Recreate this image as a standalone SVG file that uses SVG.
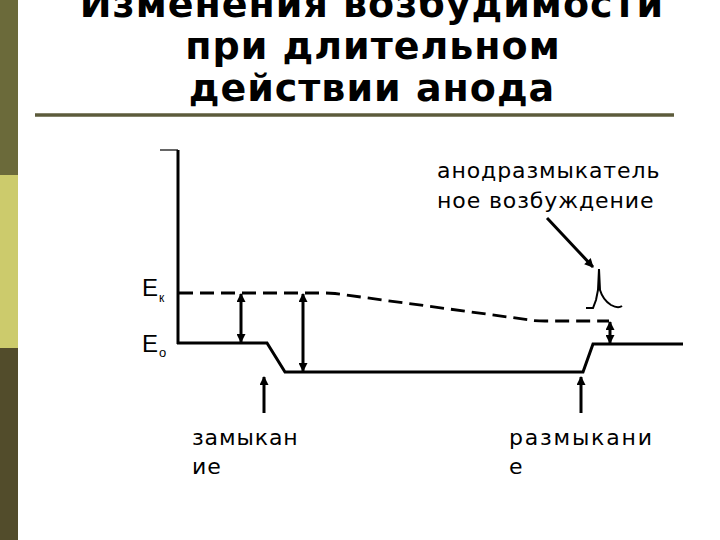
<svg xmlns="http://www.w3.org/2000/svg" width="720" height="540" viewBox="0 0 720 540">
<style>
.title{font-family:"DejaVu Sans",sans-serif;font-weight:bold;font-size:38px;fill:#000;text-anchor:middle;letter-spacing:1px}
.lbl{font-family:"DejaVu Sans",sans-serif;font-size:22px;fill:#000;letter-spacing:0.9px}
.ax{font-family:"Liberation Sans",Arial,sans-serif;fill:#000}
.solid{fill:none;stroke:#000;stroke-width:3}
.dash{fill:none;stroke:#000;stroke-width:2.8;stroke-dasharray:14 7}
.arr{fill:none;stroke:#000;stroke-width:3}
</style>
<defs>
<marker id="ah" viewBox="0 0 10 10" refX="9" refY="5" markerWidth="10" markerHeight="9" markerUnits="userSpaceOnUse" orient="auto-start-reverse">
<path d="M0,0 L10,5 L0,10 z" fill="#000"/>
</marker>
</defs>
<rect width="720" height="540" fill="#fff"/>
<g id="sidebar">
<rect x="0" y="0" width="18" height="175" fill="#6b6a3a"/>
<rect x="0" y="175" width="18" height="173" fill="#cccb6c"/>
<rect x="0" y="348" width="18" height="192" fill="#524c2b"/>
</g>
<g id="title">
<text class="title" x="372" y="16.5">Изменения возбудимости</text>
<text class="title" x="373" y="58.5">при длительном</text>
<text class="title" x="372" y="101">действии анода</text>
<line x1="35" y1="115" x2="674" y2="115" stroke="#5c5b3b" stroke-width="3.5"/>
</g>
<g id="axis">
<line x1="160" y1="150" x2="178" y2="150" stroke="#000" stroke-width="1.2"/>
<line x1="178" y1="150" x2="178" y2="344" stroke="#000" stroke-width="3"/>
<text class="ax" x="142" y="296" font-size="24">E</text>
<text class="ax" x="159" y="302" font-size="12">к</text>
<text class="ax" x="142" y="352" font-size="24">E</text>
<text class="ax" x="159" y="357" font-size="13">o</text>
</g>
<g id="potential">
<path class="solid" d="M177,343 L267,343 L285,372 L583,372 L593,344 L683,344"/>
</g>
<g id="threshold">
<path class="dash" d="M179,293 L325,293 Q330,293 335,293.5 L530,320 Q536,321 545,321 L609,321"/>
</g>
<g id="spike">
<path d="M586,308 L593,308 L596,300 L598,290 L599,269 L600,290 Q603,300 611,305 Q618,309 622,306" fill="none" stroke="#000" stroke-width="2"/>
</g>
<g id="labels">
<text class="lbl" x="437" y="178">анодразмыкатель</text>
<text class="lbl" x="437" y="208">ное возбуждение</text>
<text class="lbl" x="192" y="445">замыкан</text>
<text class="lbl" x="192" y="474">ие</text>
<text class="lbl" x="509" y="445" style="letter-spacing:1.8px">размыкани</text>
<text class="lbl" x="509" y="474">е</text>
</g>
<g id="connectors">
<line class="arr" x1="241" y1="294" x2="241" y2="342" marker-start="url(#ah)" marker-end="url(#ah)"/>
<line class="arr" x1="303" y1="294" x2="303" y2="371" marker-start="url(#ah)" marker-end="url(#ah)"/>
<line class="arr" x1="610" y1="322" x2="610" y2="343" marker-start="url(#ah)" marker-end="url(#ah)"/>
<line class="arr" x1="264" y1="413" x2="264" y2="377" marker-end="url(#ah)"/>
<line class="arr" x1="581" y1="413" x2="581" y2="377" marker-end="url(#ah)"/>
<line class="arr" x1="547" y1="218" x2="593" y2="267" marker-end="url(#ah)"/>
</g>
</svg>
